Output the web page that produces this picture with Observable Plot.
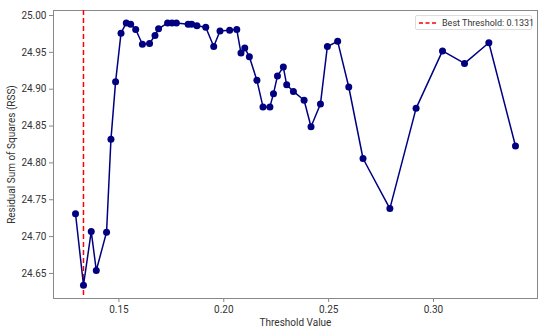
<!DOCTYPE html>
<html>
<head>
<meta charset="utf-8">
<script src="https://cdn.jsdelivr.net/npm/d3@7"></script>
<script src="https://cdn.jsdelivr.net/npm/@observablehq/plot@0.6"></script>
<style>
  html, body { margin: 0; padding: 0; background: #fff; }
  #wrap { position: relative; width: 550px; height: 332px; font-family: Roboto, "Open Sans", sans-serif; }
  #legend { position: absolute; left: 415px; top: 15px; width: 117px; height: 15px; border: 1px solid #ddd; border-radius: 2px; background: #fff; font-size: 9px; color: #333; display: flex; align-items: center; box-sizing: border-box; padding-left: 3px; white-space: nowrap; }
  #legend svg { margin-right: 5px; flex: none; }
</style>
</head>
<body>
<div id="wrap"><div id="legend"><svg width="18" height="4"><line x1="0" y1="2" x2="18" y2="2" stroke="red" stroke-width="1.5" stroke-dasharray="4,2.5"/></svg><span>Best Threshold: 0.1331</span></div></div>
<script>
const thresholds = [0.1293, 0.1331, 0.1368, 0.1392, 0.1441, 0.1462, 0.1484, 0.1510, 0.1535, 0.1556, 0.1580, 0.1612, 0.1646, 0.1672, 0.1689, 0.1732, 0.1753, 0.1774, 0.1830, 0.1847, 0.1872, 0.1914, 0.1952, 0.1982, 0.2028, 0.2062, 0.2082, 0.2100, 0.2122, 0.2158, 0.2187, 0.2220, 0.2237, 0.2256, 0.2284, 0.2300, 0.2332, 0.2383, 0.2416, 0.2461, 0.2494, 0.2543, 0.2596, 0.2664, 0.2792, 0.2917, 0.3043, 0.3148, 0.3264, 0.3391];
const rss = [24.731, 24.634, 24.707, 24.654, 24.706, 24.832, 24.910, 24.976, 24.990, 24.988, 24.981, 24.961, 24.962, 24.973, 24.982, 24.990, 24.990, 24.990, 24.988, 24.988, 24.986, 24.984, 24.958, 24.979, 24.980, 24.981, 24.949, 24.956, 24.944, 24.912, 24.876, 24.876, 24.894, 24.918, 24.930, 24.906, 24.897, 24.885, 24.849, 24.880, 24.958, 24.965, 24.903, 24.806, 24.738, 24.874, 24.952, 24.935, 24.963, 24.823];
const bestThreshold = 0.1331;
const xTicks = [0.15, 0.20, 0.25, 0.30];
const yTicks = [24.65, 24.70, 24.75, 24.80, 24.85, 24.90, 24.95, 25.00];

const data = thresholds.map((t, i) => ({t, v: rss[i]}));
const navy = "#000080";

const chart = Plot.plot({
  width: 550,
  height: 332,
  marginLeft: 53,
  marginRight: 13,
  marginTop: 10,
  marginBottom: 34,
  style: {fontFamily: "Roboto, 'Open Sans', sans-serif", fontSize: "10px", color: "#333", background: "#fff"},
  x: {domain: [0.1188, 0.3496]},
  y: {domain: [24.616, 25.0068]},
  marks: [
    Plot.frame({stroke: "#888", strokeWidth: 1}),
    Plot.axisX({ticks: xTicks, tickFormat: d3.format(".2f"), tickSize: 4, stroke: "#888", tickPadding: 3, label: "Threshold Value", labelAnchor: "center", labelArrow: "none", labelOffset: 27}),
    Plot.axisY({ticks: yTicks, tickFormat: d3.format(".2f"), tickSize: 4, stroke: "#888", tickPadding: 3, label: "Residual Sum of Squares (RSS)", labelAnchor: "center", labelArrow: "none", labelOffset: 46}),
    Plot.ruleX([bestThreshold], {stroke: "red", strokeWidth: 1.5, strokeDasharray: "5,3"}),
    Plot.line(data, {x: "t", y: "v", stroke: navy, strokeWidth: 1.5}),
    Plot.dot(data, {x: "t", y: "v", fill: navy, r: 3.5})
  ]
});
document.getElementById("wrap").prepend(chart);
chart.style.position = "absolute";
chart.style.left = "0";
chart.style.top = "0";
</script>
</body>
</html>
